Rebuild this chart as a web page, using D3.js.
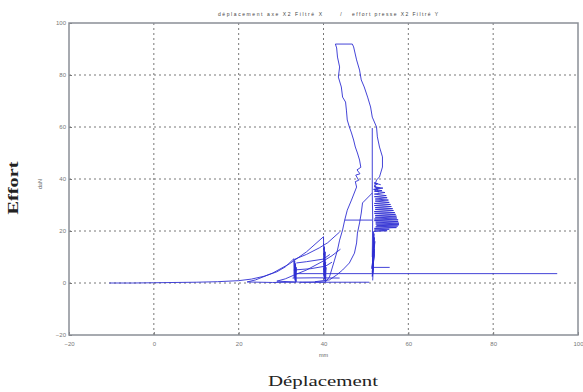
<!DOCTYPE html>
<html>
<head>
<meta charset="utf-8">
<script src="https://cdn.jsdelivr.net/npm/d3@7"></script>
<style>
  body { margin: 0; background: #fff; }
  svg { display: block; }
</style>
</head>
<body>
<svg id="chart" width="583" height="392"></svg>
<script>
// ticks
const xTicks = [-20, 0, 20, 40, 60, 80, 100];
const yTicks = [-20, 0, 20, 40, 60, 80, 100];

// trace pieces, [mm, daN]
const firstLoad = [[-10.5, 0], [-5, 0], [0, 0.1], [5, 0.2], [10, 0.3], [15, 0.5], [20, 0.9],
  [23, 1.5], [26, 2.6], [29, 4.3], [31, 6.2], [33, 9.3],
  [33.1, 2], [33.2, 8.5], [33.3, 1], [33.4, 7.5], [33.5, 0.5], [33.2, 6.8], [33.4, 1.5],
  [33.6, 6], [33.3, 2.5], [33.5, 5], [33.5, 0.3],
  [28, 0.2], [22, 0.4]];
const secondLoad = [[22, 0.4], [24, 1.2], [28, 3.8], [32, 7.4], [36, 12], [40, 17.8],
  [40.1, 4], [40.2, 14], [40.3, 2], [40.2, 11], [40.4, 1], [40.3, 9], [40.1, 2.5],
  [40.4, 12], [40.2, 1.5], [40.5, 8], [40.3, 3], [40.6, 6], [40.5, 0.4],
  [35, 0.3], [29, 0.7]];
const thirdLoad = [[29, 0.7], [31, 1.6], [33, 3], [36, 5], [40, 8.5], [42, 10.5], [44, 13]];
const fanLines = [
  [[33, 9], [36, 11], [39, 13.5], [41, 15.5], [43.8, 19.6]],
  [[33.6, 7.7], [36, 8.2], [40, 9.2], [41.5, 11]],
  [[32.7, 1.9], [38, 2], [43.8, 1.9]],
  [[33, 5], [37, 5.5], [40.5, 6.5], [42, 8]]
];
const bigLoop = [[40.5, 0.5], [41.4, 2.3], [41.9, 5], [42.6, 8.8], [43.3, 12.7], [43.8, 16.5],
  [44.5, 20.4], [45, 24.2], [45.6, 28], [46.6, 31.9], [47.8, 36.9], [47.5, 39], [48.3, 39.5],
  [47.6, 41.5], [48.6, 42], [47.9, 43.5], [48.8, 44.5], [48.5, 47.3], [48, 50], [47.5, 52.3],
  [47.1, 55], [46.6, 57.7], [46.1, 60], [45.6, 62.7], [45.4, 66.5], [45.2, 69.6], [44.5, 71.5],
  [44.2, 75.4], [43.5, 79.2], [43.8, 83.1], [43.3, 86.9], [43.1, 90.4], [42.8, 91.9],
  [46.8, 91.9], [47.1, 90.8], [47.8, 85.8], [48.5, 81.9], [48.9, 78.1], [49.6, 75.4],
  [50.4, 71.5], [51.1, 67.7], [51.5, 63.8], [52.5, 60], [52.7, 56.2], [53.2, 52.3],
  [53.9, 48.5], [53.9, 44.6], [53.2, 40.8], [52.5, 39.6], [52, 37]];
const sawtooth = [[52, 37], [54, 36.5], [52, 36], [53.8, 35.5], [52, 35.3], [54.5, 34.8],
  [52, 34.2], [54.8, 33.6], [52, 33.2], [55, 32.8], [52.2, 32.3], [55.3, 31.9], [52.2, 31.5],
  [55.5, 31], [52, 30.6], [55.8, 30.2], [52, 29.8], [56, 29.4], [52.2, 29], [56.3, 28.6],
  [52.2, 28.3], [56.5, 27.9], [52, 27.5], [56.8, 27.1], [52, 26.8], [57, 26.4], [52.2, 26],
  [57.2, 25.7], [52.2, 25.3], [57.3, 25], [52, 24.6], [57.6, 24.3], [52, 24], [57.6, 23.6],
  [52.3, 23.4], [57.8, 23], [52.3, 22.7], [57.8, 22.4], [52.5, 22.2], [57.5, 21.9],
  [52.3, 21.6], [57.2, 21.3], [52, 21], [55.5, 20.7], [52, 20.4], [55, 20.1], [51.8, 19.8]];
const spikes = [[51.8, 19.8], [51.6, 8], [51.9, 19], [51.5, 6], [52, 17.5], [51.6, 5],
  [51.8, 15], [51.5, 4], [52, 13], [51.6, 3.5], [51.9, 11], [51.5, 2.5], [51.8, 9],
  [51.4, 5.5], [52.1, 16], [51.7, 7], [51.9, 12], [51.6, 1]];
const upperSteps = [[52, 37], [53.2, 36.5], [51.8, 36], [53, 35], [52.1, 37.5], [52.8, 38.2],
  [51.9, 38.5], [53.5, 37.8]];
const innerDrop = [[51.5, 59.6], [51.5, 39.6], [51.5, 34.6], [51.6, 25], [51.5, 10]];
const unload = [[51.5, 34.6], [49.2, 30.8], [48.9, 26.9], [48.5, 23.1], [48, 19.2], [47.8, 15.4],
  [47.3, 11.5], [46.1, 7.7], [44.5, 5], [43.1, 3.1], [41.4, 1.2], [38, 0.5]];
const flatLines = [
  [[45, 24.2], [51.5, 24.2]],
  [[51.5, 6], [55.6, 6]],
  [[34.4, 0.3], [50.8, 0.3]],
  [[33.5, 3.6], [95.1, 3.6]]
];

const svg = d3.select('#chart');
const margin = { left: 69, right: 5, top: 23, bottom: 57 };
const W = 583, H = 392;

const x = d3.scaleLinear().domain([-20, 100]).range([margin.left, W - margin.right]);
const y = d3.scaleLinear().domain([-20, 100]).range([H - margin.bottom, margin.top]);

// grid
const grid = svg.append('g').attr('stroke', '#555').attr('stroke-width', 0.8)
  .attr('stroke-dasharray', '2,3');
grid.selectAll('.gx').data(xTicks.slice(1, -1)).enter().append('line')
  .attr('x1', d => x(d)).attr('x2', d => x(d))
  .attr('y1', y(100)).attr('y2', y(-20));
grid.selectAll('.gy').data(yTicks.slice(1, -1)).enter().append('line')
  .attr('y1', d => y(d)).attr('y2', d => y(d))
  .attr('x1', x(-20)).attr('x2', x(100));

// axes
const xAxis = svg.append('g')
  .attr('transform', 'translate(0,' + y(-20) + ')')
  .call(d3.axisBottom(x).tickValues(xTicks).tickSize(-3).tickPadding(7));
const yAxis = svg.append('g')
  .attr('transform', 'translate(' + x(-20) + ',0)')
  .call(d3.axisLeft(y).tickValues(yTicks).tickSize(-3).tickPadding(3));
[xAxis, yAxis].forEach(a => {
  a.select('.domain').remove();
  a.selectAll('line').attr('stroke', '#777');
  a.selectAll('text').attr('fill', '#777').style('font-family', 'Liberation Sans, Arial')
    .style('font-size', '6px');
});

// box
svg.append('rect')
  .attr('x', x(-20)).attr('y', y(100))
  .attr('width', x(100) - x(-20)).attr('height', y(-20) - y(100))
  .attr('fill', 'none').attr('stroke', '#8a8f96').attr('stroke-width', 1.5);

// trace
const line = d3.line().x(d => x(d[0])).y(d => y(d[1]));
const pieces = [firstLoad, secondLoad, thirdLoad, ...fanLines, bigLoop, sawtooth, spikes,
  upperSteps, innerDrop, unload, ...flatLines];
svg.append('g').selectAll('path').data(pieces).enter().append('path')
  .attr('d', line)
  .attr('fill', 'none')
  .attr('stroke', '#2f2fd2')
  .attr('stroke-width', 0.9)
  .attr('stroke-linejoin', 'round');

// texts
const small = 'Liberation Sans, Arial';
svg.append('text').attr('x', 270).attr('y', 16).attr('text-anchor', 'middle')
  .style('font-family', small).style('font-size', '5px').attr('fill', '#444')
  .attr('textLength', 104).text('déplacement axe X2 Filtré X');
svg.append('text').attr('x', 341).attr('y', 16).attr('text-anchor', 'middle')
  .style('font-family', small).style('font-size', '5px').attr('fill', '#444').text('/');
svg.append('text').attr('x', 395).attr('y', 16).attr('text-anchor', 'middle')
  .style('font-family', small).style('font-size', '5px').attr('fill', '#444')
  .attr('textLength', 86).text('effort presse X2 Filtré Y');

svg.append('text').attr('x', x(40)).attr('y', 357).attr('text-anchor', 'middle')
  .style('font-family', small).style('font-size', '5.5px').attr('fill', '#666').text('mm');
svg.append('text').attr('transform', 'translate(42,' + 184 + ') rotate(-90)')
  .attr('text-anchor', 'middle')
  .style('font-family', small).style('font-size', '5.5px').attr('fill', '#666').text('daN');

svg.append('text').attr('transform', 'translate(18,188) rotate(-90)')
  .attr('text-anchor', 'middle')
  .style('font-family', 'Liberation Serif, Times New Roman, serif').style('font-size', '15px')
  .style('font-weight', 'bold').attr('fill', '#222')
  .attr('textLength', 53).attr('lengthAdjust', 'spacingAndGlyphs').text('Effort');
svg.append('text').attr('x', 323).attr('y', 386).attr('text-anchor', 'middle')
  .style('font-family', 'Liberation Serif, Times New Roman, serif').style('font-size', '15px')
  .attr('fill', '#222')
  .attr('textLength', 110).attr('lengthAdjust', 'spacingAndGlyphs').text('Déplacement');
</script>
</body>
</html>
